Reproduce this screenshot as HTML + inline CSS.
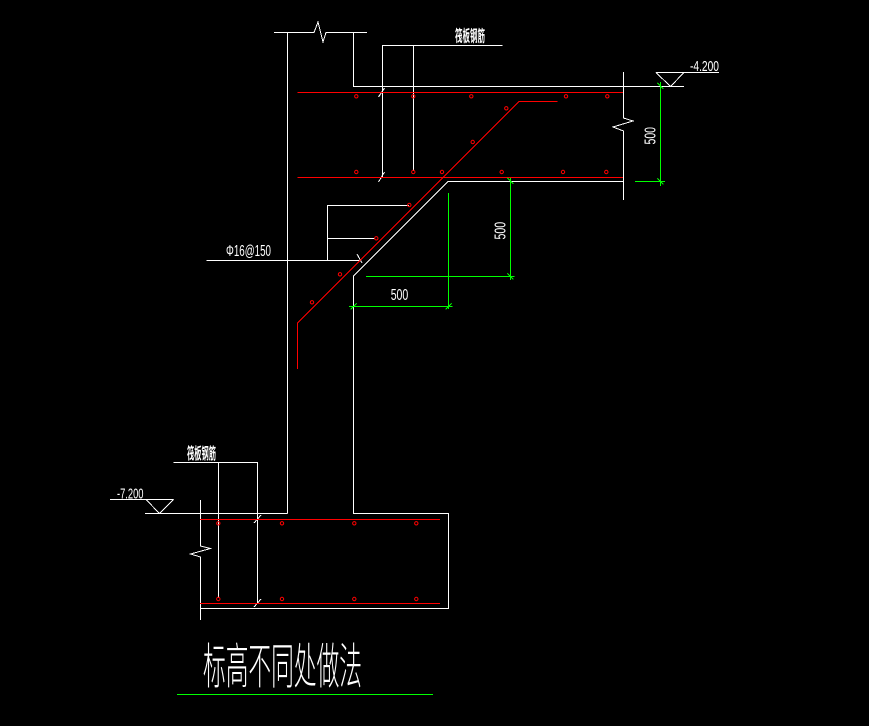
<!DOCTYPE html>
<html><head><meta charset="utf-8"><style>
html,body{margin:0;padding:0;background:#000;}
svg{display:block;}
text{font-family:"Liberation Sans","Noto Sans CJK SC",sans-serif;fill:#fff;}
.cjk{font-family:"Noto Sans CJK SC","WenQuanYi Zen Hei",sans-serif;}
</style></head><body>
<svg width="869" height="726" viewBox="0 0 869 726" xmlns="http://www.w3.org/2000/svg">
<rect width="869" height="726" fill="#000"/>
<g fill="none" stroke="#fff" stroke-width="1" shape-rendering="crispEdges">
  <polyline points="274,32.5 314,32.5 318,22 323,42 326,32.5 367,32.5"/>
  <line x1="287.5" y1="32" x2="287.5" y2="513.5"/>
  <polyline points="353.5,32 353.5,86.5 684,86.5"/>
  <polyline points="623.5,72 623.5,118 633,121 613,127 623.5,131 623.5,200"/>
  <polyline points="623,181.5 448,181.5 353.5,276 353.5,513.5 448.5,513.5 448.5,608.5 200,608.5"/>
  <line x1="145" y1="513.5" x2="287.5" y2="513.5"/>
  <polyline points="200.5,500 200.5,546 210.5,548.5 190.5,554 200.5,557 200.5,620"/>
  <line x1="656" y1="72.5" x2="719" y2="72.5"/>
  <polyline points="656,72.5 670.5,86.5 684,72.5"/>
  <line x1="110" y1="499.5" x2="173.5" y2="499.5"/>
  <polyline points="146,499.5 159.5,513.5 173.5,499.5"/>
  <polyline points="502.5,45.5 382.5,45.5 382.5,177"/>
  <line x1="413.5" y1="45.5" x2="413.5" y2="171"/>
  <line x1="378.5" y1="97" x2="384.5" y2="88"/>
  <line x1="378.5" y1="182" x2="384.5" y2="172"/>
  <polyline points="173.5,462.5 257.5,462.5 257.5,603"/>
  <line x1="218.5" y1="462.5" x2="218.5" y2="598"/>
  <line x1="254" y1="523" x2="261" y2="515"/>
  <line x1="254" y1="607" x2="261" y2="599"/>
  <line x1="206.5" y1="260.5" x2="361" y2="260.5"/>
  <polyline points="409,205.5 327.5,205.5 327.5,260.5"/>
  <line x1="327.5" y1="238.5" x2="375" y2="238.5"/>
  <line x1="357" y1="254" x2="362" y2="263"/>
</g>
<g fill="none" stroke="#ff0000" stroke-width="1" shape-rendering="crispEdges">
  <line x1="297.5" y1="92.5" x2="623" y2="92.5"/>
  <line x1="297.5" y1="177.5" x2="623" y2="177.5"/>
  <polyline points="557.5,101.5 519,101.5 297.5,323 297.5,369"/>
  <line x1="200" y1="519.5" x2="440" y2="519.5"/>
  <line x1="200" y1="603.5" x2="440" y2="603.5"/>
</g>
<g fill="none" stroke="#ff0000" stroke-width="1">
  <circle cx="356.3" cy="96.3" r="1.7"/>
  <circle cx="413.3" cy="96.3" r="1.7"/>
  <circle cx="471.3" cy="96.3" r="1.7"/>
  <circle cx="566" cy="96.3" r="1.7"/>
  <circle cx="607.3" cy="96.3" r="1.7"/>
  <circle cx="356.3" cy="172" r="1.7"/>
  <circle cx="413.3" cy="172" r="1.7"/>
  <circle cx="442" cy="172" r="1.7"/>
  <circle cx="501.7" cy="172" r="1.7"/>
  <circle cx="563" cy="172" r="1.7"/>
  <circle cx="606.3" cy="172" r="1.7"/>
  <circle cx="506.3" cy="108.3" r="1.7"/>
  <circle cx="472.7" cy="142" r="1.7"/>
  <circle cx="409.3" cy="205" r="1.7"/>
  <circle cx="376.3" cy="238.3" r="1.7"/>
  <circle cx="340" cy="274.3" r="1.7"/>
  <circle cx="312" cy="302.3" r="1.7"/>
  <circle cx="218.3" cy="523.3" r="1.7"/>
  <circle cx="282" cy="523.3" r="1.7"/>
  <circle cx="354.3" cy="523.3" r="1.7"/>
  <circle cx="416.3" cy="523.3" r="1.7"/>
  <circle cx="218.3" cy="599" r="1.7"/>
  <circle cx="282" cy="599" r="1.7"/>
  <circle cx="354.3" cy="599" r="1.7"/>
  <circle cx="416.3" cy="599" r="1.7"/>
</g>
<g fill="none" stroke="#00ff00" stroke-width="1" shape-rendering="crispEdges">
  <line x1="660.5" y1="82" x2="660.5" y2="186"/>
  <line x1="635" y1="181.5" x2="665" y2="181.5"/>
  <line x1="657.5" y1="83" x2="663.5" y2="89"/>
  <line x1="657.5" y1="178.5" x2="663.5" y2="184.5"/>
  <line x1="510.5" y1="178" x2="510.5" y2="280"/>
  <line x1="366" y1="276.5" x2="514.5" y2="276.5"/>
  <line x1="507.5" y1="178" x2="513.5" y2="184"/>
  <line x1="507.5" y1="273.5" x2="513.5" y2="279.5"/>
  <line x1="448.5" y1="193" x2="448.5" y2="309"/>
  <line x1="349" y1="306.5" x2="452.5" y2="306.5"/>
  <line x1="350.5" y1="309.5" x2="356.5" y2="303.5"/>
  <line x1="445.5" y1="309.5" x2="451.5" y2="303.5"/>
  <line x1="177" y1="694.5" x2="433" y2="694.5"/>
</g>
<text x="690" y="71" font-size="15" textLength="29" lengthAdjust="spacingAndGlyphs">-4.200</text>
<text x="117" y="498.5" font-size="15" textLength="26.5" lengthAdjust="spacingAndGlyphs">-7.200</text>
<text transform="translate(655.5,144.5) rotate(-90)" font-size="16" textLength="17.5" lengthAdjust="spacingAndGlyphs">500</text>
<text transform="translate(505.5,239.5) rotate(-90)" font-size="16" textLength="17.6" lengthAdjust="spacingAndGlyphs">500</text>
<text x="390.7" y="300" font-size="16" textLength="17.6" lengthAdjust="spacingAndGlyphs">500</text>
<text x="226" y="256" font-size="16" textLength="45" lengthAdjust="spacingAndGlyphs">Φ16@150</text>
<text class="cjk" x="455" y="41.5" font-size="16" font-weight="bold" textLength="30" lengthAdjust="spacingAndGlyphs">筏板钢筋</text>
<text class="cjk" x="187" y="459" font-size="16" font-weight="bold" textLength="29" lengthAdjust="spacingAndGlyphs">筏板钢筋</text>
<text class="cjk" x="203" y="683.5" font-size="49" font-weight="300" textLength="159" lengthAdjust="spacingAndGlyphs">标高不同处做法</text>
</svg>
</body></html>
